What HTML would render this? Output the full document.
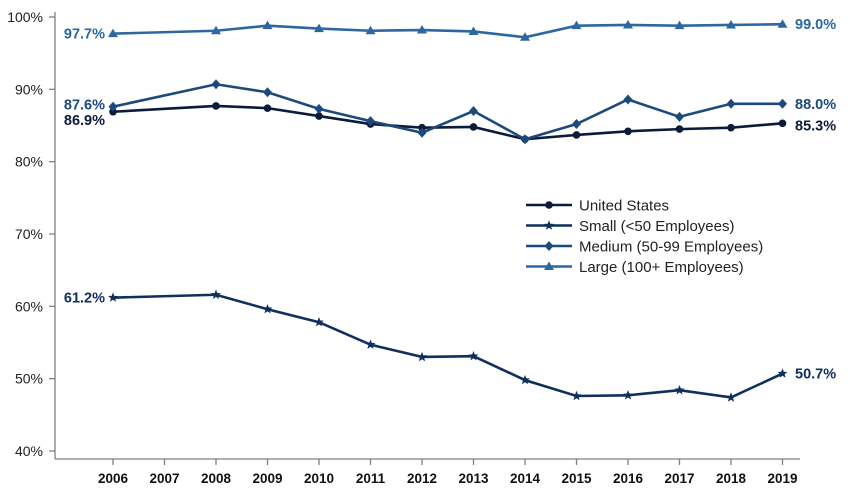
<!DOCTYPE html>
<html><head><meta charset="utf-8"><style>
body{margin:0;background:#fff;}
svg{display:block;font-family:"Liberation Sans",Arial,sans-serif;}
</style></head><body>
<svg id="c" width="850" height="492" viewBox="0 0 850 492"></svg>
<script>
const s=document.getElementById('c');
const X=y=>113+51.5*(y-2006), Y=v=>17+(100-v)*7.233;
let h='';
// axes
h+='<line x1="55" y1="12" x2="55" y2="459" stroke="#808080" stroke-width="1.3"/>';
h+='<line x1="55" y1="459" x2="800" y2="459" stroke="#808080" stroke-width="1.3"/>';
for(let v=40;v<=100;v+=10){const y=Y(v);h+=`<line x1="49" y1="${y}" x2="55" y2="${y}" stroke="#808080" stroke-width="1.3"/><text x="43" y="${y+5}" font-size="14" text-anchor="end" fill="#222">${v}%</text>`;}
for(let yr=2006;yr<=2019;yr++){const x=X(yr);h+=`<line x1="${x}" y1="459" x2="${x}" y2="465" stroke="#808080" stroke-width="1.3"/><text x="${x}" y="483" font-size="13.5" font-weight="bold" text-anchor="middle" fill="#111">${yr}</text>`;}
const yrs=[2006,2008,2009,2010,2011,2012,2013,2014,2015,2016,2017,2018,2019];
const S=[
 ['#0d1b3a','circle',[86.9,87.7,87.4,86.3,85.2,84.7,84.8,83.1,83.7,84.2,84.5,84.7,85.3]],
 ['#0f2f5e','star',[61.2,61.6,59.6,57.8,54.7,53.0,53.1,49.8,47.6,47.7,48.4,47.4,50.7]],
 ['#1d4a7c','diamond',[87.6,90.7,89.6,87.3,85.6,84.0,87.0,83.1,85.2,88.6,86.2,88.0,88.0]],
 ['#2e67a0','tri',[97.7,98.1,98.8,98.4,98.1,98.2,98.0,97.2,98.8,98.9,98.8,98.9,99.0]]];
function mk(t,x,y,c){
 if(t=='circle')return `<circle cx="${x}" cy="${y}" r="3.8" fill="${c}"/>`;
 if(t=='diamond')return `<polygon points="${x},${y-5} ${x+4.5},${y} ${x},${y+5} ${x-4.5},${y}" fill="${c}"/>`;
 if(t=='tri')return `<polygon points="${x},${y-5} ${x+5},${y+3.5} ${x-5},${y+3.5}" fill="${c}"/>`;
 let p=[];for(let i=0;i<10;i++){const r=i%2?2.2:5.2,a=-Math.PI/2+i*Math.PI/5;p.push((x+r*Math.cos(a)).toFixed(1)+','+(y+r*Math.sin(a)).toFixed(1));}
 return `<polygon points="${p.join(' ')}" fill="${c}"/>`;
}
for(const [c,t,d] of S){
 h+=`<polyline fill="none" stroke="${c}" stroke-width="2.6" points="${d.map((v,i)=>X(yrs[i])+','+Y(v)).join(' ')}"/>`;
 d.forEach((v,i)=>h+=mk(t,X(yrs[i]),Y(v),c));
}
const L=[['97.7%',Y(97.7),'#2e67a0','99.0%',Y(99.0)],['87.6%',Y(87.6)-2,'#1d4a7c','88.0%',Y(88.0)],['86.9%',Y(86.9)+8,'#0d1b3a','85.3%',Y(85.3)+2],['61.2%',Y(61.2),'#0f2f5e','50.7%',Y(50.7)]];
for(const [a,y,c,b,y2] of L){h+=`<text x="105" y="${y+5}" font-size="14.5" font-weight="bold" text-anchor="end" fill="${c}">${a}</text><text x="795" y="${y2+5}" font-size="14.5" font-weight="bold" fill="${c}">${b}</text>`;}
const LG=['United States','Small (<50 Employees)','Medium (50-99 Employees)','Large (100+ Employees)'];
LG.forEach((n,i)=>{const y=205+i*20.5,[c,t]=S[i];h+=`<line x1="526" y1="${y}" x2="572" y2="${y}" stroke="${c}" stroke-width="2.6"/>`+mk(t,549,y,c)+`<text x="579" y="${y+5.5}" font-size="15" fill="#222">${n.replace('<','&lt;')}</text>`;});
s.innerHTML=h;
</script>
</body></html>
